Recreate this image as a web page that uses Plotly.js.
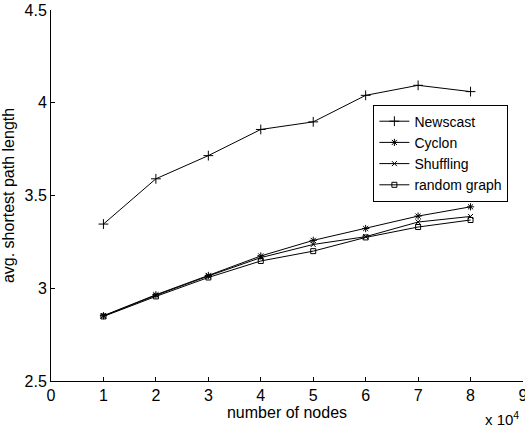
<!DOCTYPE html>
<html><head><meta charset="utf-8">
<script src="https://cdn.plot.ly/plotly-3.0.1.min.js"></script>
<style>body{margin:0;padding:0;background:#fff}</style>
</head><body>
<div id="chart" style="width:525px;height:429px"></div>
<script>
const nodes = [1, 2, 3, 4, 5, 6, 7, 8];
const newscast = [3.346, 3.590, 3.715, 3.856, 3.897, 4.040, 4.094, 4.060];
const cyclon = [2.852, 2.965, 3.069, 3.174, 3.258, 3.322, 3.389, 3.439];
const shuffling = [2.850, 2.962, 3.066, 3.165, 3.236, 3.278, 3.357, 3.387];
const randomGraph = [2.848, 2.956, 3.058, 3.147, 3.200, 3.274, 3.330, 3.368];
const names = ["Newscast", "Cyclon", "Shuffling", "random graph"];
const series = [newscast, cyclon, shuffling, randomGraph];
const symbols = ["cross-thin-open", "asterisk-open", "x-thin-open", "square-open"];
const sizes = [7, 6, 5, 5];

const font = "Liberation Sans, Arial, Helvetica, sans-serif";
const traces = series.map((ys, i) => ({
  x: nodes, y: ys, name: names[i], type: "scatter", mode: "lines+markers",
  line: {color: "#000", width: 1},
  marker: {symbol: symbols[i], size: sizes[i], color: "#000", line: {color: "#000", width: 1}}
}));

const layout = {
  width: 525, height: 429, autosize: false,
  margin: {l: 51, r: 2, t: 10, b: 47.5, pad: 0},
  paper_bgcolor: "#fff", plot_bgcolor: "#fff",
  font: {family: font, color: "#000", size: 16},
  showlegend: true,
  legend: {
    x: 0.683, y: 0.745, xanchor: "left", yanchor: "top",
    bgcolor: "#fff", bordercolor: "#000", borderwidth: 1,
    font: {family: font, size: 14, color: "#000"},
    itemwidth: 30, tracegroupgap: 0
  },
  xaxis: {
    range: [0, 9], dtick: 1, tick0: 0, showgrid: false, zeroline: false,
    showline: true, linecolor: "#000", linewidth: 1, mirror: false,
    ticks: "inside", ticklen: 4, tickcolor: "#000",
    ticklabeloverflow: "allow",
    tickfont: {family: font, size: 16},
    title: {text: "number of nodes", font: {family: font, size: 16}, standoff: 2}
  },
  yaxis: {
    range: [2.5, 4.5], dtick: 0.5, tick0: 2.5, showgrid: false, zeroline: false,
    showline: true, linecolor: "#000", linewidth: 1, mirror: false,
    ticks: "inside", ticklen: 4, tickcolor: "#000",
    tickfont: {family: font, size: 16},
    title: {text: "avg. shortest path length", font: {family: font, size: 16}, standoff: 6}
  },
  annotations: [{
    text: "x 10<sup>4</sup>", xref: "paper", yref: "paper", x: 1, y: 0,
    xanchor: "right", yanchor: "top", yshift: -26, xshift: -2, showarrow: false,
    font: {family: font, size: 15, color: "#000"}
  }]
};
Plotly.newPlot("chart", traces, layout, {displayModeBar: false, staticPlot: true});
</script>
</body></html>
